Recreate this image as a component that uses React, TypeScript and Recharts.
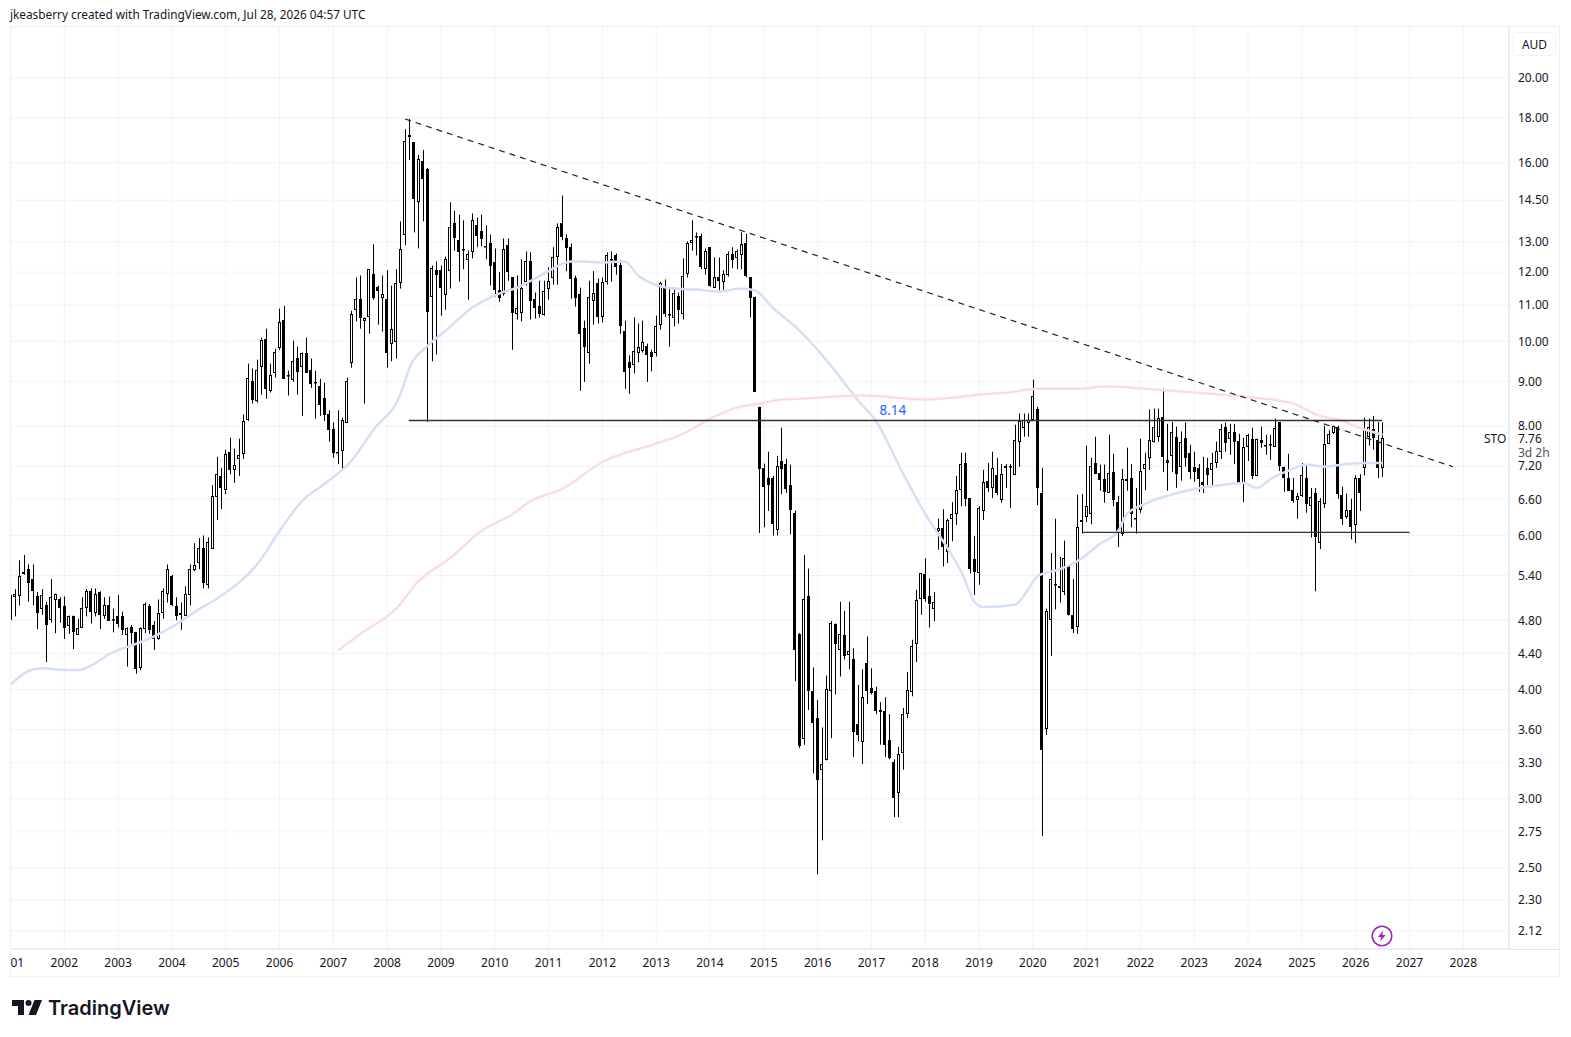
import { Bar, CartesianGrid, ComposedChart, Line, ReferenceDot, ReferenceLine, XAxis, YAxis } from "recharts";

// monthly candles, one row per month: open, high, low, close
const y2001 = [[4.80,5.28,4.77,5.13],[5.10,5.21,4.85,5.14],[5.11,5.62,4.99,5.39],[5.42,5.70,5.41,5.45],[5.49,5.56,5.04,5.29],[5.35,5.56,4.99,5.18],[5.11,5.17,4.69,4.89],[4.95,5.21,4.87,5.13],[5.00,5.04,4.30,4.74],[4.80,5.35,4.77,5.10],[5.07,5.15,4.64,5.15],[5.07,5.10,4.77,4.95]];
const y2002 = [[4.98,5.11,4.57,4.70],[4.72,4.86,4.63,4.85],[4.85,4.86,4.45,4.65],[4.62,4.82,4.62,4.70],[4.71,5.10,4.71,4.96],[4.95,5.21,4.85,5.18],[5.18,5.22,4.76,4.90],[4.90,5.22,4.85,5.15],[5.17,5.18,4.69,4.86],[4.86,5.10,4.82,5.00],[5.00,5.11,4.80,4.80],[4.82,4.95,4.65,4.81]];
const y2003 = [[4.85,5.13,4.71,4.75],[4.85,4.91,4.62,4.68],[4.62,4.71,4.25,4.70],[4.72,4.74,4.51,4.64],[4.65,4.65,4.17,4.22],[4.23,4.71,4.21,4.70],[4.69,5.03,4.64,5.01],[4.99,5.01,4.63,4.68],[4.74,4.79,4.44,4.57],[4.57,5.07,4.56,4.89],[4.89,5.22,4.82,5.18],[5.15,5.56,5.03,5.50]];
const y2004 = [[5.39,5.41,4.98,4.99],[4.99,5.10,4.80,4.86],[4.87,5.03,4.68,4.89],[4.86,5.25,4.86,5.15],[5.13,5.56,4.99,5.49],[5.48,5.88,5.46,5.55],[5.58,5.96,5.49,5.80],[5.80,6.00,5.22,5.29],[5.27,5.97,5.22,5.90],[5.80,6.85,5.79,6.66],[6.64,7.38,6.25,7.05],[7.02,7.17,6.43,6.80]];
const y2005 = [[6.76,7.52,6.69,7.44],[7.48,7.76,7.05,7.13],[7.13,7.54,6.89,7.23],[7.34,7.74,7.02,7.42],[7.42,8.25,7.34,8.10],[8.14,9.43,8.11,9.09],[9.00,9.31,8.49,8.56],[8.56,9.53,8.51,9.28],[9.36,10.10,8.69,10.04],[10.07,10.34,8.60,8.83],[8.79,9.43,8.74,9.16],[9.21,9.81,9.09,9.73]];
const y2006 = [[9.81,10.90,9.78,10.51],[10.59,10.98,9.06,9.06],[9.16,9.26,8.67,9.13],[9.02,10.02,8.99,9.49],[9.56,9.86,8.69,9.21],[9.36,9.71,8.22,9.71],[9.71,10.10,9.21,9.21],[9.28,9.56,8.85,8.95],[8.99,9.26,8.16,8.97],[8.90,9.06,8.22,8.47],[8.62,8.97,8.11,8.25],[8.27,8.34,7.68,7.93]];
const y2007 = [[7.93,8.08,7.36,7.44],[7.46,8.34,7.24,7.48],[7.50,8.18,7.11,8.14],[8.08,9.09,8.08,9.02],[9.46,10.84,9.33,10.76],[10.87,11.83,10.54,11.19],[11.19,11.89,10.34,10.65],[10.54,10.65,8.49,10.62],[10.65,12.09,10.20,12.09],[11.95,12.91,11.16,11.22],[11.55,11.58,10.45,11.43],[11.22,11.89,10.26,11.34]];
const y2008 = [[11.19,12.06,9.33,9.71],[9.94,11.58,9.49,10.34],[9.97,12.09,9.56,11.65],[11.65,13.71,11.49,12.74],[13.25,17.48,12.88,16.96],[17.20,17.95,16.12,17.11],[16.89,16.89,13.32,14.53],[14.41,16.33,12.77,16.15],[16.07,16.55,13.71,15.32],[15.73,15.78,8.09,10.79],[11.22,12.21,9.49,12.12],[12.06,12.34,9.66,11.90]];
const y2009 = [[12.06,12.21,10.70,11.49],[11.28,12.50,10.87,12.41],[12.03,14.42,11.49,13.50],[13.67,14.11,12.70,13.14],[13.07,13.96,11.70,12.67],[12.74,13.75,12.09,12.70],[12.41,12.70,11.16,12.60],[12.64,14.00,12.44,13.75],[13.57,13.85,12.81,13.18],[13.36,13.96,12.84,13.07],[12.84,13.57,12.41,12.81],[12.97,13.25,11.58,12.21]];
const y2010 = [[12.31,12.77,11.25,11.43],[11.46,12.00,11.10,11.22],[11.31,13.11,11.28,12.74],[12.87,13.11,11.73,11.99],[11.83,11.83,9.78,10.76],[10.76,11.89,10.59,10.93],[10.79,12.41,10.54,11.52],[11.67,12.67,11.58,12.34],[12.34,12.64,10.59,11.10],[11.19,11.37,10.62,10.93],[10.98,11.73,10.65,10.76],[10.73,11.73,10.70,11.43]];
const y2011 = [[11.49,12.15,11.16,11.73],[11.80,12.81,11.61,12.47],[12.47,13.64,11.61,13.50],[13.64,14.68,13.05,13.14],[13.14,13.25,12.03,12.81],[12.81,12.94,11.19,11.77],[11.80,11.89,10.96,11.19],[11.34,11.52,8.78,10.20],[10.37,10.56,8.99,9.86],[9.71,11.73,9.43,11.25],[11.13,12.03,10.45,11.37],[11.65,11.80,10.48,10.65]];
const y2012 = [[10.67,11.83,10.51,11.70],[11.67,12.64,11.61,12.54],[12.38,12.67,11.70,12.41],[12.54,12.60,11.92,12.15],[12.21,12.38,10.20,10.40],[10.28,10.56,8.83,9.24],[9.46,9.64,8.71,9.31],[9.41,10.65,9.19,9.76],[9.71,10.48,9.46,9.86],[9.76,10.56,9.71,9.99],[9.88,9.94,8.99,9.66],[9.73,9.78,9.24,9.61]];
const y2013 = [[9.68,10.70,9.61,10.40],[10.43,11.70,10.31,11.65],[11.52,11.77,10.67,10.76],[10.76,11.52,9.86,10.73],[10.65,11.52,10.40,11.37],[11.28,11.37,10.48,10.87],[10.76,12.44,10.59,11.89],[11.95,13.01,11.83,12.97],[12.97,13.75,12.70,13.07],[13.14,13.32,12.54,13.18],[13.18,13.28,12.09,12.15],[12.12,12.77,11.92,12.70]];
const y2014 = [[12.81,12.81,11.55,11.55],[11.52,12.47,11.52,11.86],[11.83,12.47,11.40,11.70],[11.70,12.06,11.43,11.95],[11.92,12.67,11.86,12.60],[12.57,12.81,12.12,12.38],[12.44,12.74,12.09,12.67],[12.54,13.32,12.09,12.91],[12.94,13.28,11.83,11.86],[11.83,11.83,10.65,11.19],[11.25,11.25,8.76,8.76],[8.42,8.42,6.04,7.15]];
const y2015 = [[7.17,7.25,6.13,6.82],[6.98,7.48,6.40,6.86],[6.98,7.02,6.00,6.18],[6.10,7.40,6.00,7.21],[7.30,7.97,6.69,7.15],[7.24,7.34,6.71,6.78],[6.85,7.23,6.02,6.41],[6.37,6.41,4.09,4.44],[4.63,4.64,3.43,3.45],[3.51,5.70,3.46,5.07],[5.11,5.50,3.79,3.98],[3.98,4.24,3.21,3.66]];
const y2016 = [[3.71,3.89,2.46,3.15],[3.24,3.62,2.69,3.29],[3.33,4.15,3.32,4.01],[3.99,4.79,3.52,4.77],[4.75,4.76,3.95,4.51],[4.44,5.04,4.14,4.63],[4.62,4.92,4.33,4.37],[4.38,5.04,4.22,4.43],[4.34,4.46,3.35,3.58],[3.65,4.05,3.49,3.55],[3.48,4.22,3.29,3.92],[4.29,4.60,3.85,3.99]];
const y2017 = [[4.02,4.23,3.95,3.97],[3.98,4.03,3.75,3.78],[3.77,3.87,3.46,3.79],[3.78,3.92,3.35,3.46],[3.50,3.75,3.33,3.34],[3.31,3.33,2.86,3.01],[3.05,3.44,2.86,3.38],[3.38,3.81,3.24,3.75],[3.76,4.19,3.71,4.00],[3.98,4.56,3.93,4.49],[4.51,5.20,4.30,5.06],[5.07,5.43,4.87,5.43]];
const y2018 = [[5.42,5.65,5.04,5.07],[5.11,5.36,4.71,5.00],[4.95,5.17,4.79,5.04],[6.07,6.27,5.78,6.12],[6.12,6.43,5.53,5.82],[5.75,6.27,5.58,6.25],[6.27,6.55,5.91,6.35],[6.35,7.02,6.17,6.76],[6.76,7.46,6.48,7.24],[7.26,7.46,6.48,6.61],[6.62,6.62,5.43,5.49],[5.64,5.99,5.13,5.45]];
const y2019 = [[5.43,6.48,5.27,6.45],[6.41,7.13,6.25,6.91],[6.93,7.26,6.73,6.80],[6.80,7.48,6.62,7.17],[7.03,7.36,6.67,6.71],[6.59,7.24,6.54,7.05],[7.21,7.24,6.80,7.17],[7.21,7.24,6.45,7.19],[7.05,8.03,7.03,7.72],[7.66,8.27,7.19,8.10],[7.97,8.27,7.78,8.14],[8.08,8.27,7.78,8.14]];
const y2020 = [[8.14,9.04,8.11,8.67],[8.38,8.42,6.50,6.80],[6.71,7.17,2.72,3.41],[3.61,4.95,3.55,4.92],[4.80,5.73,4.37,5.35],[5.28,6.27,4.94,5.27],[5.25,5.67,5.03,5.22],[5.16,5.92,5.13,5.65],[5.53,5.53,4.86,4.86],[4.87,5.35,4.64,4.70],[4.71,6.68,4.63,6.13],[6.25,6.69,6.03,6.22]];
const y2021 = [[6.29,7.60,6.22,6.48],[6.35,7.36,6.18,7.21],[7.26,7.78,7.05,7.05],[7.07,7.23,6.75,6.95],[6.96,7.23,6.54,6.73],[6.71,7.82,6.71,7.07],[7.09,7.44,6.48,6.59],[6.55,6.66,5.82,6.04],[6.02,7.15,5.99,6.96],[6.93,7.56,6.75,6.96],[6.98,7.24,6.13,6.35],[6.27,6.80,6.03,6.29]];
const y2022 = [[6.41,7.74,6.37,7.11],[7.15,7.46,6.76,7.24],[7.36,8.36,7.13,7.72],[7.68,8.38,7.66,7.99],[7.78,8.38,7.68,8.18],[8.20,8.83,7.09,7.38],[7.32,8.05,6.75,7.26],[7.38,8.09,7.09,7.87],[7.78,7.99,6.80,7.05],[7.19,7.89,6.93,7.68],[7.76,8.08,7.19,7.36],[7.46,7.62,6.96,7.09]];
const y2023 = [[7.19,7.48,6.91,7.09],[7.17,7.24,6.73,6.96],[6.91,7.38,6.71,6.85],[7.17,7.36,6.85,7.03],[7.13,7.46,6.85,7.26],[7.26,7.68,7.17,7.50],[7.48,8.05,7.34,7.95],[7.99,8.08,7.48,7.66],[7.72,8.05,7.42,7.87],[7.87,8.05,7.24,7.66],[7.70,7.84,6.87,6.87],[6.87,7.76,6.55,7.58]];
const y2024 = [[7.58,7.84,7.30,7.82],[7.74,7.97,6.96,7.03],[7.03,7.74,7.02,7.74],[7.72,7.99,7.56,7.66],[7.60,7.82,7.42,7.62],[7.62,7.82,7.32,7.64],[7.58,8.16,7.58,7.97],[8.08,8.08,7.11,7.19],[7.19,7.19,6.73,6.98],[6.98,7.44,6.75,6.75],[6.76,6.98,6.54,6.57],[6.59,6.71,6.27,6.66]];
const y2025 = [[6.66,7.26,6.64,7.03],[6.98,7.21,6.37,6.52],[6.48,6.80,5.97,6.64],[6.71,6.80,5.18,5.97],[5.88,6.62,5.79,6.57],[6.52,8.01,6.45,7.64],[7.64,7.91,7.64,7.84],[7.87,8.01,7.84,8.01],[7.99,8.01,6.61,6.69],[6.67,6.82,6.17,6.27],[6.29,6.70,6.27,6.41],[6.41,6.61,5.94,6.13]];
const y2026 = [[6.17,7.03,5.88,6.98],[6.98,7.05,6.40,6.71],[7.17,8.18,7.03,7.95],[7.78,8.16,7.60,7.99],[7.95,8.22,7.52,7.76],[7.72,8.09,6.98,7.17],[7.17,8.08,7.00,7.76]];

// moving averages, read at the months where the curve changes shape
const blueMonths = [0,4,7,13,15,19,22,28,32,37,42,46,52,55,60,65,70,76,81,87,89,93,97,103,109,113,119,125,127,132,137,140,143,148,153,158,163,166,170,176,183,189,193,199,204,209,212,215,217,224,227,229,234,238,243,247,249,253,258,264,270,275,278,281,286,289,293,298,302,306];
const blueValues = [4.05,4.20,4.23,4.21,4.21,4.29,4.39,4.51,4.60,4.75,4.94,5.08,5.36,5.56,6.07,6.57,6.87,7.30,7.93,8.71,9.33,9.88,10.28,10.93,11.34,11.52,11.95,12.34,12.34,12.31,12.34,11.89,11.65,11.49,11.46,11.40,11.49,11.43,10.93,10.28,9.38,8.56,8.11,7.07,6.35,5.80,5.46,5.04,4.97,5.00,5.21,5.39,5.49,5.61,5.87,6.07,6.35,6.52,6.66,6.78,6.85,6.89,6.80,6.96,7.15,7.23,7.19,7.24,7.26,7.26];
const redMonths = [73,78,86,91,98,105,112,116,123,132,144,150,156,162,167,172,176,190,204,216,224,229,239,244,253,264,275,286,292,296,302,306];
const redValues = [4.43,4.63,4.95,5.32,5.65,6.07,6.35,6.57,6.78,7.28,7.64,7.84,8.16,8.40,8.49,8.58,8.60,8.67,8.58,8.69,8.76,8.83,8.83,8.88,8.83,8.74,8.65,8.49,8.22,8.14,7.93,7.82];

const priceTicks = [2.12,2.3,2.5,2.75,3,3.3,3.6,4,4.4,4.8,5.4,6,6.6,7.2,8,9,10,11,12,13,14.5,16,18,20];
const yearTicks = [0,12,24,36,48,60,72,84,96,108,120,132,144,156,168,180,192,204,216,228,240,252,264,276,288,300,312,324];
const lastPrice = 7.76;

const candles = [y2001,y2002,y2003,y2004,y2005,y2006,y2007,y2008,y2009,y2010,y2011,y2012,y2013,y2014,y2015,y2016,y2017,y2018,y2019,y2020,y2021,y2022,y2023,y2024,y2025,y2026].flat();

const data = candles.map(([o, h, l, c], idx) => {
  const b = blueMonths.indexOf(idx);
  const r = redMonths.indexOf(idx);
  return {
    idx,
    up: c >= o,
    wick: [l, h],
    body: [Math.min(o, c), Math.max(o, c)],
    blue: b >= 0 ? blueValues[b] : null,
    red: r >= 0 ? redValues[r] : null,
  };
});

const FONT = '"Noto Sans", sans-serif';

function Wick(props: any) {
  const { x, y, width, height } = props;
  return <rect x={Math.round(x + width / 2 - 0.5)} y={Math.min(y, y + height)} width={1} height={Math.abs(height)} fill="#000" />;
}

function Body(props: any) {
  const { x, y, width, height, payload } = props;
  const px = Math.round(x + width / 2 - 0.5);
  const top = Math.min(y, y + height);
  return (
    <rect
      x={px - 0.5}
      y={Math.round(top) + 0.5}
      width={2}
      height={Math.max(Math.round(Math.abs(height)) - 1, 0.5)}
      fill={payload.up ? "#fff" : "#000"}
      stroke="#000"
      strokeWidth={1}
    />
  );
}

export default function App() {
  return (
    <div style={{ position: "absolute", left: 0, top: 0, width: 1571, height: 1037, background: "#fff", fontFamily: FONT, color: "#131722", overflow: "hidden" }}>
      <div style={{ position: "absolute", left: 10, top: 6, fontSize: 11.8, color: "#131722", whiteSpace: "nowrap" }}>
        jkeasberry created with TradingView.com, Jul 28, 2026 04:57 UTC
      </div>

      <div style={{ position: "absolute", left: 10, top: 26, width: 1550, height: 951 }}>
        <ComposedChart width={1550} height={951} data={data} margin={{ top: 0, right: 0, bottom: 0, left: 0 }}>
          <CartesianGrid stroke="#f1f3f7" strokeWidth={1} />
          <XAxis
            dataKey="idx"
            type="number"
            domain={[-0.11, 334.19]}
            allowDataOverflow
            ticks={yearTicks}
            interval={0}
            tickFormatter={(i: number) => String(2001 + i / 12)}
            height={28}
            tickLine={false}
            tickSize={0}
            tickMargin={9}
            axisLine={{ stroke: "#e0e3eb" }}
            tick={{ fontSize: 12, fill: "#131722", fontFamily: FONT }}
          />
          <XAxis xAxisId="body" dataKey="idx" type="number" domain={[-0.11, 334.19]} allowDataOverflow hide height={0} />
          <YAxis
            orientation="right"
            scale="log"
            type="number"
            domain={[2.021, 22.93]}
            allowDataOverflow
            ticks={priceTicks}
            interval={0}
            tickFormatter={(v: number) => v.toFixed(2)}
            width={51}
            tickLine={false}
            tickSize={0}
            tickMargin={9}
            axisLine={{ stroke: "#e0e3eb" }}
            tick={{ fontSize: 12, fill: "#131722", fontFamily: FONT }}
          />
          <Line dataKey="blue" stroke="#d5e0f7" strokeWidth={2.5} dot={false} connectNulls type="monotone" isAnimationActive={false} />
          <Line dataKey="red" stroke="#fadde2" strokeWidth={2.5} dot={false} connectNulls type="monotone" isAnimationActive={false} />
          <ReferenceLine segment={[{ x: 88.8, y: 8.12 }, { x: 305.9, y: 8.12 }]} stroke="#333" strokeWidth={1.3} />
          <ReferenceLine segment={[{ x: 239.2, y: 6.05 }, { x: 312, y: 6.05 }]} stroke="#333" strokeWidth={1.3} />
          <ReferenceLine segment={[{ x: 88, y: 17.95 }, { x: 321.7, y: 7.19 }]} stroke="#222" strokeWidth={1.2} strokeDasharray="6 5" />
          <Bar dataKey="wick" barSize={1} shape={Wick} isAnimationActive={false} />
          <Bar xAxisId="body" dataKey="body" barSize={2} shape={Body} isAnimationActive={false} />
          <ReferenceDot
            x={196.8}
            y={8.35}
            r={0}
            fill="none"
            stroke="none"
            label={{ value: "8.14", fill: "#2962ff", fontSize: 13.5, fontFamily: FONT }}
          />
        </ComposedChart>
      </div>

      {/* frame round the pane and the corner under the price scale */}
      <div style={{ position: "absolute", left: 10, top: 26, width: 1550, height: 951, boxSizing: "border-box", border: "1px solid #eef0f3", pointerEvents: "none" }} />
      <div style={{ position: "absolute", left: 1509, top: 949, width: 51, height: 1, background: "#e0e3eb" }} />

      <div style={{ position: "absolute", left: 1513, top: 32, width: 43, height: 24, boxSizing: "border-box", border: "1px solid #f0f3fa", borderRadius: 3, fontSize: 12, textAlign: "center", lineHeight: "24px", background: "#fff" }}>
        AUD
      </div>

      <div style={{ position: "absolute", left: 1484, top: 431, fontSize: 12, lineHeight: "16px" }}>STO</div>
      <div style={{ position: "absolute", left: 1510, top: 431, width: 40, height: 29, background: "#fff", fontSize: 12, paddingLeft: 8, boxSizing: "border-box", lineHeight: "14px" }}>
        <div style={{ marginTop: 1 }}>{lastPrice.toFixed(2)}</div>
        <div style={{ color: "#50535e" }}>3d 2h</div>
      </div>

      <svg style={{ position: "absolute", left: 1370, top: 924 }} width={24} height={24} viewBox="0 0 24 24">
        <circle cx={12} cy={12} r={9.8} fill="#fff" stroke="#9c27b0" strokeWidth={1.6} />
        <path d="M13.2 6.5 8 13h3.2l-1 4.5 5.4-6.5h-3.3z" fill="#9c27b0" />
      </svg>

      <svg style={{ position: "absolute", left: 12, top: 1000 }} width={30} height={15} viewBox="0 0 30 15">
        <path d="M0 0H12V15H6V6H0Z" fill="#131722" />
        <circle cx={16.5} cy={3} r={3} fill="#131722" />
        <path d="M30 0 24 15H16.5L22.5 0Z" fill="#131722" />
      </svg>
      <div style={{ position: "absolute", left: 48, top: 993, fontFamily: "Inter, sans-serif", fontWeight: 600, fontSize: 20, lineHeight: "30px", color: "#131722", whiteSpace: "nowrap" }}>
        TradingView
      </div>
    </div>
  );
}
